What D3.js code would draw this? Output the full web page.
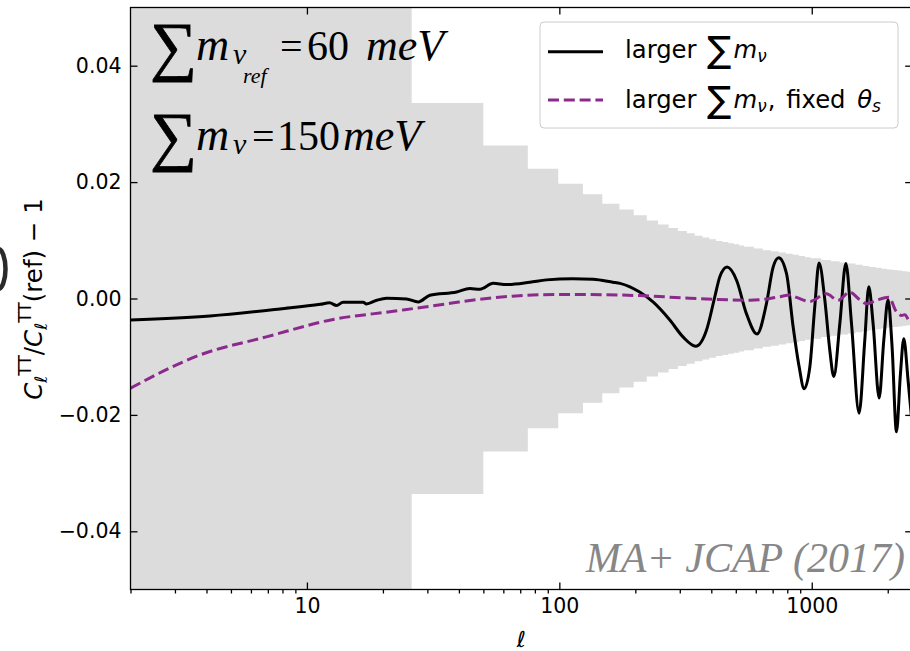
<!DOCTYPE html>
<html><head><meta charset="utf-8">
<script src="https://cdn.jsdelivr.net/npm/d3@7"></script>
<style>body{margin:0;background:#fff}</style>
</head><body>
<svg id="chart" width="910" height="651"></svg>
<script>
// Relative change of the TT spectrum, C_l(150 meV)/C_l(60 meV) - 1
const ellSolid = [2, 4.13, 7.82, 11.3, 12.3, 13.1, 13.9, 16.7, 17.2, 18.9,
  20.7, 24.8, 27.6, 30.7, 39.2, 44.2, 48.5, 54.7, 61.8, 76.4,
  89, 113, 136, 163, 174, 208, 235, 274, 309, 347,
  383, 413, 432, 462, 504, 551, 607, 662, 703, 740,
  794, 844, 891, 933, 983, 1028, 1069, 1127, 1179, 1223,
  1292, 1365, 1437, 1540, 1622, 1682, 1750, 1849, 1929, 2006,
  2081, 2166, 2246, 2315, 2407, 2500];
const ratioSolid = [-0.0037, -0.0030, -0.0018, -0.0010, -0.00075, -0.0012, -0.00063, -0.00063, -0.00093, -0.0003,
  0.00005, -0.00007, -0.00058, 0.00057, 0.00113, 0.0017, 0.0016, 0.0026, 0.0024, 0.0028,
  0.0032, 0.0034, 0.0033, 0.0028, 0.0026, 0.0011, -0.0006, -0.0037, -0.0066, -0.0082,
  -0.0054, 0.0003, 0.0037, 0.0054, 0.0031, -0.0026, -0.0061, -0.0008, 0.0054, 0.0070,
  0.0043, -0.0049, -0.0117, -0.0155, -0.0117, -0.0014, 0.0061, -0.0003, -0.0089, -0.0134,
  -0.0043, 0.0060, -0.0043, -0.0197, -0.0072, 0.0020, -0.0043, -0.0171, -0.0072, -0.0002,
  -0.0083, -0.0229, -0.0129, -0.0069, -0.0140, -0.0217];

// Same change with the acoustic angular scale held fixed
const ellFixed = [2, 3.77, 6.9, 12.7, 22, 36, 40, 65, 103, 208,
  309, 420, 569, 682, 747, 818, 869, 981, 1143, 1271,
  1413, 1548, 1647, 1805, 2020, 2166, 2267, 2336, 2445, 2500];
const ratioFixed = [-0.0154, -0.0097, -0.0066, -0.0036, -0.0022, -0.0009, -0.0006, 0.0004, 0.0007, 0.0005,
  0.0001, -0.00017, -0.0003, 0.0, 0.0003, 0.0006, 0.0002, -0.0005, 0.0008, -0.0003,
  0.0011, -0.0002, -0.0009, -0.0003, 0.0002, -0.0023, -0.0029, -0.0028, -0.0040, -0.0042];

// Binned cosmic-variance band: bin edges and half-widths
const bandEdges = [2, 26, 50, 75, 99, 124, 148, 173, 197, 222, 246,
  271, 295, 320, 344, 369, 393, 418, 442, 467, 491, 516, 540,
  590, 640, 690, 740, 790, 840, 890, 940, 990,
  1090, 1190, 1290, 1390, 1490, 1590, 1690, 1790, 1890, 1990, 2090, 2190, 2290, 2390, 2500];
const bandHalfWidth = [0.08, 0.0336, 0.0263, 0.0223, 0.0197, 0.0179, 0.0163, 0.0153, 0.0143, 0.0134,
  0.0127, 0.0121, 0.0116, 0.0112, 0.0108, 0.0105, 0.0102, 0.0099, 0.0097, 0.0095, 0.0093, 0.0091,
  0.0089, 0.0086, 0.0083, 0.0081, 0.0079, 0.0077, 0.0075, 0.0073, 0.0071,
  0.0069, 0.0066, 0.0064, 0.0062, 0.0060, 0.0058, 0.0056, 0.0054, 0.0053, 0.0051, 0.0050, 0.0049, 0.0048, 0.0047, 0.0046];

const xMajorTicks = [10, 100, 1000];
const xMinorTicks = [2, 3, 4, 5, 6, 7, 8, 9, 20, 30, 40, 50, 60, 70, 80, 90,
  200, 300, 400, 500, 600, 700, 800, 900, 2000];
const yTicks = [-0.04, -0.02, 0, 0.02, 0.04];

const svg = d3.select("#chart");
const L = 130.5, R = 912.2, T = 7.5, B = 589.5;
const x = d3.scaleLog().domain([2, 2500]).range([L, R]);
const y = d3.scaleLinear().domain([-0.05, 0.05]).range([B, T]);
const sans = "DejaVu Sans, sans-serif";
const serif = "Liberation Serif, Times New Roman, serif";

svg.append("defs").append("clipPath").attr("id", "plotArea")
  .append("rect").attr("x", L).attr("y", T).attr("width", R - L).attr("height", B - T);

const plot = svg.append("g").attr("clip-path", "url(#plotArea)");

// band
const bandPts = bandHalfWidth.map((h, i) => ({ l: bandEdges[i], h }));
bandPts.push({ l: bandEdges[bandEdges.length - 1], h: bandHalfWidth[bandHalfWidth.length - 1] });
plot.append("path").datum(bandPts)
  .attr("d", d3.area().x(d => x(d.l)).y0(d => y(-d.h)).y1(d => y(d.h)).curve(d3.curveStepAfter))
  .attr("fill", "#dcdcdc");

// curves
const solidData = ellSolid.map((l, i) => [l, ratioSolid[i]]);
const fixedData = ellFixed.map((l, i) => [l, ratioFixed[i]]);
const line = d3.line().x(d => x(d[0])).y(d => y(d[1])).curve(d3.curveMonotoneX);
plot.append("path").datum(solidData).attr("d", line)
  .attr("fill", "none").attr("stroke", "#000").attr("stroke-width", 3).attr("stroke-linejoin", "round");
plot.append("path").datum(fixedData).attr("d", line)
  .attr("fill", "none").attr("stroke", "#8b2a8c").attr("stroke-width", 3).attr("stroke-dasharray", "11,4.8");

// watermark
svg.append("text").attr("x", 905).attr("y", 572).attr("text-anchor", "end")
  .attr("font-family", serif).attr("font-style", "italic").attr("font-size", 42)
  .attr("fill", "#878787").text("MA+ JCAP (2017)");

// axes
function styleAxis(g) {
  g.select(".domain").remove();
  g.selectAll("line").attr("stroke", "#000").attr("stroke-width", 1.3);
  g.selectAll("text").attr("font-family", sans).attr("font-size", 20.5).attr("fill", "#000");
}
svg.append("g").attr("transform", `translate(0,${B})`)
  .call(d3.axisBottom(x).tickValues(xMajorTicks).tickFormat(d3.format("d")).tickSizeInner(-7).tickSizeOuter(0).tickPadding(9))
  .call(styleAxis);
svg.append("g").attr("transform", `translate(0,${B})`)
  .call(d3.axisBottom(x).tickValues(xMinorTicks).tickFormat("").tickSizeInner(4).tickSizeOuter(0))
  .call(styleAxis);
svg.append("g").attr("transform", `translate(0,${T})`)
  .call(d3.axisTop(x).tickValues(xMajorTicks).tickFormat("").tickSizeInner(-7).tickSizeOuter(0))
  .call(styleAxis);
svg.append("g").attr("transform", `translate(${L},0)`)
  .call(d3.axisLeft(y).tickValues(yTicks).tickFormat(d3.format(".2f")).tickSizeInner(-7).tickSizeOuter(0).tickPadding(9))
  .call(styleAxis);
svg.append("g").attr("transform", `translate(${R},0)`)
  .call(d3.axisRight(y).tickValues(yTicks).tickFormat("").tickSizeInner(-7).tickSizeOuter(0))
  .call(styleAxis);

svg.append("rect").attr("x", L).attr("y", T).attr("width", R - L).attr("height", B - T)
  .attr("fill", "none").attr("stroke", "#000").attr("stroke-width", 1.3);

// axis labels
svg.append("text").attr("x", (L + R) / 2).attr("y", 647).attr("text-anchor", "middle")
  .attr("font-family", sans).attr("font-style", "italic").attr("font-size", 22).text("ℓ");

const yl = svg.append("text").attr("transform", "translate(42,299) rotate(-90)")
  .attr("text-anchor", "middle").attr("font-family", sans).attr("font-size", 24.5);
yl.append("tspan").attr("font-style", "italic").text("C");
yl.append("tspan").attr("font-style", "italic").attr("font-size", 17).attr("dy", 5).text("ℓ");
yl.append("tspan").attr("font-size", 17).attr("dy", -16).text("TT");
yl.append("tspan").attr("dy", 11).text("/");
yl.append("tspan").attr("font-style", "italic").text("C");
yl.append("tspan").attr("font-style", "italic").attr("font-size", 17).attr("dy", 5).text("ℓ");
yl.append("tspan").attr("font-size", 17).attr("dy", -16).text("TT");
yl.append("tspan").attr("dy", 11).text("(ref) − 1");

// edge of the neighbouring panel's glyph
svg.append("path").attr("d", "M -2,249 A 7.5,20 0 0 1 -2,289")
  .attr("fill", "none").attr("stroke", "#2a2a2a").attr("stroke-width", 4.5);

// mass annotations
const ann = svg.append("g").attr("font-family", serif).attr("fill", "#000");
function sumLine(yb, pieces) {
  ann.append("text").attr("x", 150).attr("y", yb + 8).attr("font-size", 66)
    .attr("stroke", "#000").attr("stroke-width", 0.8).text("∑");
  pieces.forEach(p => {
    ann.append("text").attr("x", p[0]).attr("y", yb + p[1]).attr("font-size", p[2])
      .attr("font-style", p[3] ? "italic" : "normal").text(p[4]);
  });
}
sumLine(60, [[196, 0, 46, true, "m"], [233, 4, 30, true, "ν"], [243, 23, 22, true, "ref"],
  [280, 0, 40, false, "="], [307, 0, 42, false, "60"], [366, 0, 44, true, "meV"]]);
sumLine(150, [[196, 0, 46, true, "m"], [233, 4, 30, true, "ν"],
  [252, 0, 40, false, "="], [277, 0, 42, false, "150"], [343, 0, 44, true, "meV"]]);

// legend
const lg = svg.append("g");
lg.append("rect").attr("x", 540).attr("y", 22).attr("width", 358).attr("height", 106).attr("rx", 4)
  .attr("fill", "#fff").attr("fill-opacity", 0.8).attr("stroke", "#cccccc").attr("stroke-width", 1);
lg.append("line").attr("x1", 548).attr("x2", 603).attr("y1", 51.7).attr("y2", 51.7)
  .attr("stroke", "#000").attr("stroke-width", 3);
lg.append("line").attr("x1", 548).attr("x2", 603).attr("y1", 100).attr("y2", 100)
  .attr("stroke", "#8b2a8c").attr("stroke-width", 3).attr("stroke-dasharray", "11,4.8");
function legendText(yb, fixed) {
  const t = lg.append("text").attr("x", 625).attr("y", yb).attr("font-family", sans)
    .attr("font-size", 24.3).attr("fill", "#000");
  t.append("tspan").text("larger ");
  t.append("tspan").attr("font-size", 36).attr("dx", 3).attr("dy", 4).text("∑");
  t.append("tspan").attr("font-style", "italic").attr("dx", 2).attr("dy", -4).text("m");
  t.append("tspan").attr("font-style", "italic").attr("font-size", 17).attr("dy", 4).text("ν");
  if (fixed) {
    t.append("tspan").attr("dx", 1).attr("dy", -4).text(",");
    t.append("tspan").attr("dx", 3).text(" fixed ");
    t.append("tspan").attr("font-style", "italic").attr("dx", 4).text("θ");
    t.append("tspan").attr("font-style", "italic").attr("font-size", 17).attr("dy", 4).text("s");
  }
}
legendText(58.3, false);
legendText(108.3, true);
</script>
</body></html>
